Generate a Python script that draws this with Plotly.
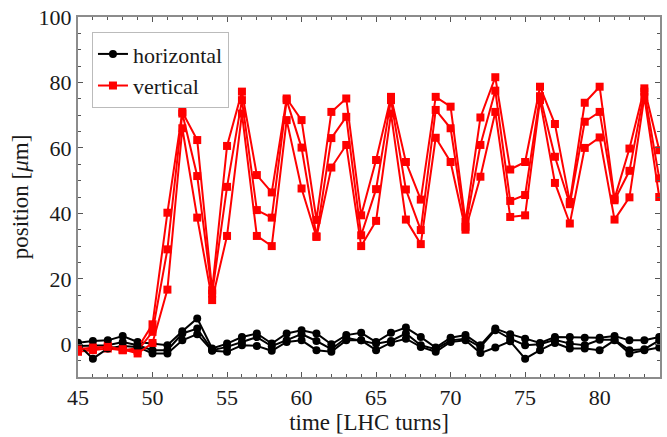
import plotly.graph_objects as go

turns = list(range(45, 85))

# vertical position, three measurements [um]
vert_a = [-1.2, -1.5, -0.5, -1.8, -1.2, 6.1, 40.2, 71.0, 62.4, 16.5, 60.6, 77.2, 51.7, 46.4, 75.1, 68.5, 38.0, 71.0, 75.1, 39.4,
          56.3, 75.6, 55.7, 44.2, 75.6, 72.6, 37.4, 69.3, 81.6, 53.4, 55.7, 78.7, 67.3, 43.5, 73.8, 78.7, 44.5, 59.8, 78.2, 59.3]
vert_b = [-2.3, -1.8, -1.3, -1.8, -2.0, 3.8, 29.0, 70.5, 51.4, 15.5, 48.1, 74.6, 41.0, 38.7, 74.6, 60.1, 33.0, 63.0, 69.5, 33.3,
          47.4, 74.6, 47.3, 34.9, 71.6, 66.0, 35.9, 60.9, 77.5, 43.8, 45.6, 75.8, 57.3, 42.8, 68.0, 71.0, 44.0, 53.0, 77.2, 50.7]
vert_c = [-1.6, -1.0, -0.8, -1.5, -2.8, 0.4, 16.7, 66.0, 38.7, 13.5, 33.1, 70.5, 33.1, 30.0, 68.5, 47.6, 32.8, 54.0, 60.9, 30.0,
          37.7, 70.5, 38.1, 30.6, 63.1, 55.7, 35.0, 51.2, 71.0, 38.9, 39.4, 74.6, 49.3, 36.9, 60.0, 63.2, 38.1, 44.9, 75.6, 45.0]

# horizontal position, three measurements [um]
hor_a = [0.5, 1.0, 1.2, 2.5, 0.7, 0.2, -0.3, 4.0, 7.9, -1.3, 0.2, 2.2, 3.3, 0.2, 3.3, 4.3, 3.3, 0.0, 2.8, 3.5,
         0.7, 3.5, 5.1, 2.2, -1.0, 2.0, 2.8, -0.3, 4.8, 3.1, 1.7, 0.4, 2.2, 2.2, 2.0, 2.0, 2.5, 1.2, 1.2, 2.2]
hor_b = [-0.5, -0.5, -0.3, 0.7, -0.3, -1.8, -1.8, 3.3, 4.8, -1.8, -0.8, 0.7, 2.2, -0.6, 1.2, 3.1, 1.0, -1.5, 2.0, 1.2,
         0.2, 1.0, 3.3, -0.3, -1.5, 1.2, 1.7, -0.8, 4.3, 1.7, -0.3, 0.0, 1.4, 0.2, -0.3, 1.4, 1.4, -1.8, -1.5, 1.2]
hor_c = [0.0, -4.4, -1.3, -0.5, -0.8, -2.8, -2.8, 1.2, 3.1, -2.0, -2.3, -0.3, -0.5, -2.0, 0.7, 1.2, -1.8, -2.3, 1.2, 1.2,
         -1.8, 0.5, 1.7, -0.8, -2.3, 0.7, 1.2, -2.7, -1.0, 0.9, -4.4, -1.8, 0.4, -1.3, -1.3, -1.8, 1.2, -2.8, -1.8, -1.0]

x_ticks = [45, 50, 55, 60, 65, 70, 75, 80]
y_ticks = [0, 20, 40, 60, 80, 100]

FONT = "Liberation Serif"
RED = "#ff0000"
BLACK = "#000000"

fig = go.Figure()
hor = [hor_a, hor_b, hor_c]
ver = [vert_a, vert_b, vert_c]
for i in range(3):
    fig.add_trace(go.Scatter(
        x=turns, y=hor[i], mode="lines+markers", name="horizontal",
        legendgroup="h", showlegend=(i == 0),
        line=dict(color=BLACK, width=2),
        marker=dict(symbol="circle", size=8, color=BLACK)))
    fig.add_trace(go.Scatter(
        x=turns, y=ver[i], mode="lines+markers", name="vertical",
        legendgroup="v", showlegend=(i == 0),
        line=dict(color=RED, width=2),
        marker=dict(symbol="square", size=8, color=RED)))

axis_common = dict(
    showline=True, linecolor="#8c8c8c", linewidth=2, mirror="allticks",
    ticks="inside", ticklen=5, tickcolor="#555555", tickwidth=1,
    showgrid=False, zeroline=False, automargin=False,
    tickfont=dict(family=FONT, size=22, color="#1a1a1a"),
)

fig.update_xaxes(
    range=[45, 84.05], tickvals=x_ticks,
    minor=dict(dtick=1, ticks="inside", ticklen=3, tickcolor="#555555"),
    title=dict(text="time [LHC turns]", font=dict(family=FONT, size=23, color="#1a1a1a"), standoff=4),
    **axis_common)
fig.update_yaxes(
    range=[-10, 100], tickvals=y_ticks,
    minor=dict(dtick=5, ticks="inside", ticklen=3, tickcolor="#555555"),
    title=dict(text="position [<i>μ</i>m]", font=dict(family=FONT, size=23, color="#1a1a1a"), standoff=4),
    **axis_common)

fig.update_layout(
    width=667, height=437,
    margin=dict(l=78, r=7, t=17, b=60),
    paper_bgcolor="white", plot_bgcolor="white",
    font=dict(family=FONT, color="#1a1a1a"),
    legend=dict(
        x=0.024, y=0.958, xanchor="left", yanchor="top",
        bgcolor="white", bordercolor="#bbbbbb", borderwidth=1,
        font=dict(family=FONT, size=22, color="#1a1a1a"),
        tracegroupgap=0, itemwidth=30),
    showlegend=True,
)

fig.write_html(
    "out.html",
    config={"displayModeBar": False},
    post_script="document.body.style.margin='0';document.body.style.overflow='hidden';",
)
